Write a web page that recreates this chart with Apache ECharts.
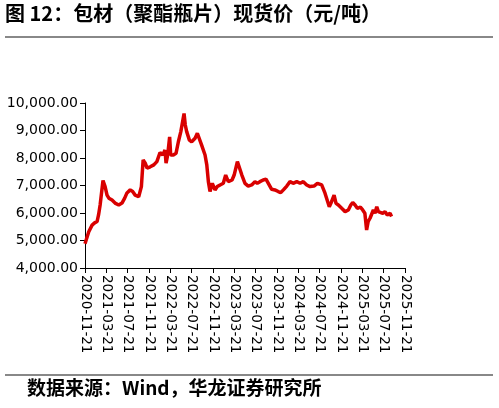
<!DOCTYPE html>
<html><head><meta charset="utf-8">
<script src="https://cdn.jsdelivr.net/npm/echarts@6/dist/echarts.min.js"></script>
<style>html,body{margin:0;padding:0;background:#fff}#c{width:499px;height:408px}</style>
</head><body><div id="c"></div>
<script>
const titleText = '图 12：包材（聚酯瓶片）现货价（元/吨）';
const sourceText = '数据来源：Wind，华龙证券研究所';
const tickLabels = ['2020-11-21','2021-03-21','2021-07-21','2021-11-21','2022-03-21','2022-07-21','2022-11-21','2023-03-21','2023-07-21','2023-11-21','2024-03-21','2024-07-21','2024-11-21','2025-03-21','2025-07-21','2025-11-21'];
const dates = ['2020-11-21','2020-12-12','2020-12-31','2021-01-15','2021-01-29','2021-02-07','2021-02-16','2021-03-02','2021-03-14','2021-03-25','2021-04-05','2021-04-23','2021-05-10','2021-05-31','2021-06-19','2021-07-04','2021-07-17','2021-08-05','2021-08-19','2021-09-03','2021-09-23','2021-10-08','2021-10-18','2021-10-30','2021-11-10','2021-11-28','2021-12-18','2022-01-05','2022-01-23','2022-02-08','2022-02-21','2022-02-27','2022-03-06','2022-03-17','2022-03-23','2022-04-08','2022-04-23','2022-05-06','2022-05-20','2022-05-31','2022-06-08','2022-06-15','2022-06-23','2022-07-08','2022-07-21','2022-08-10','2022-08-23','2022-09-03','2022-09-17','2022-10-06','2022-10-16','2022-10-25','2022-11-04','2022-11-17','2022-12-02','2022-12-15','2022-12-31','2023-01-19','2023-02-02','2023-02-17','2023-03-08','2023-03-20','2023-04-08','2023-04-19','2023-05-03','2023-05-21','2023-06-09','2023-06-29','2023-07-17','2023-07-30','2023-08-15','2023-09-03','2023-09-19','2023-10-02','2023-10-21','2023-11-09','2023-11-28','2023-12-12','2023-12-27','2024-01-16','2024-02-04','2024-02-22','2024-03-12','2024-03-31','2024-04-19','2024-05-08','2024-05-27','2024-06-19','2024-07-08','2024-07-19','2024-08-02','2024-08-11','2024-08-21','2024-08-31','2024-09-15','2024-09-28','2024-10-12','2024-10-23','2024-11-06','2024-11-25','2024-12-14','2025-01-02','2025-01-16','2025-01-27','2025-02-10','2025-02-23','2025-03-10','2025-03-23','2025-04-05','2025-04-15','2025-04-24','2025-05-04','2025-05-14','2025-05-23','2025-06-02','2025-06-12','2025-06-21','2025-07-01','2025-07-16','2025-07-29','2025-08-11','2025-08-27','2025-09-05'];
const prices = [4880,5320,5560,5640,5690,5930,6290,7180,6960,6650,6540,6470,6360,6290,6360,6540,6730,6840,6780,6650,6590,6960,7930,7810,7630,7680,7750,7870,8200,8110,8290,7810,8110,8770,8110,8110,8170,8590,8960,8960,9620,9200,8960,8650,8590,8720,8900,8840,8470,8110,7750,7140,6780,7080,6840,6960,7020,7080,7380,7140,7200,7380,7870,7810,7380,7080,6980,7020,7140,7080,7140,7200,7230,7080,6860,6840,6780,6740,6840,6980,7140,7080,7140,7080,7140,7020,6960,6980,7080,7140,7020,6960,6720,6650,6230,6410,6650,6350,6290,6170,6050,6110,6290,6380,6290,6170,6210,6110,5990,5380,5690,5810,5750,6110,5990,6230,6050,6110,5990,6050,5930,5990,5870];

function monthsFromStart(s){
  const [y,m,d] = s.split('-').map(Number);
  return (y-2020)*12 + (m-11) + (d-21)/30.44;
}
function fmtNum(v){
  const s = Math.round(v).toString().replace(/\B(?=(\d{3})+(?!\d))/g, ',');
  return s + '.00';
}
const seriesData = dates.map((d,i)=>[monthsFromStart(d), prices[i]]);

const chart = echarts.init(document.getElementById('c'), null, {renderer:'canvas'});
chart.setOption({
  animation:false,
  backgroundColor:'#fff',
  grid:{left:85,right:94,top:103,bottom:140,containLabel:false},
  xAxis:{
    type:'value',min:0,max:60,interval:4,
    axisLine:{show:true,lineStyle:{color:'#000',width:1}},
    axisTick:{show:true,length:5,lineStyle:{color:'#000'}},
    splitLine:{show:false},
    axisLabel:{rotate:-90,margin:7,color:'#000',fontSize:13.5,fontFamily:'DejaVu Sans, sans-serif',
      formatter:function(v){const i=Math.round(v/4);return tickLabels[i]||'';}}
  },
  yAxis:{
    type:'value',min:4000,max:10000,interval:1000,
    axisLine:{show:true,lineStyle:{color:'#000',width:1}},
    axisTick:{show:true,length:5,lineStyle:{color:'#000'}},
    splitLine:{show:false},
    axisLabel:{margin:7,color:'#000',fontSize:14,fontFamily:'DejaVu Sans, sans-serif',formatter:fmtNum}
  },
  series:[{type:'line',data:seriesData,showSymbol:false,symbol:'none',
    lineStyle:{color:'#d90000',width:3.5},itemStyle:{color:'#d90000'}}],
  graphic:[
    {type:'text',left:5,top:3,style:{text:titleText,font:'bold 20px "Noto Sans CJK SC", sans-serif',fill:'#000'}},
    {type:'line',shape:{x1:5,y1:37,x2:493,y2:37},style:{stroke:'#888',lineWidth:2}},
    {type:'line',shape:{x1:5,y1:375,x2:493,y2:375},style:{stroke:'#888',lineWidth:2}},
    {type:'text',left:27,top:378,style:{text:sourceText,font:'bold 19px "Noto Sans CJK SC", sans-serif',fill:'#000'}}
  ]
});
</script></body></html>
